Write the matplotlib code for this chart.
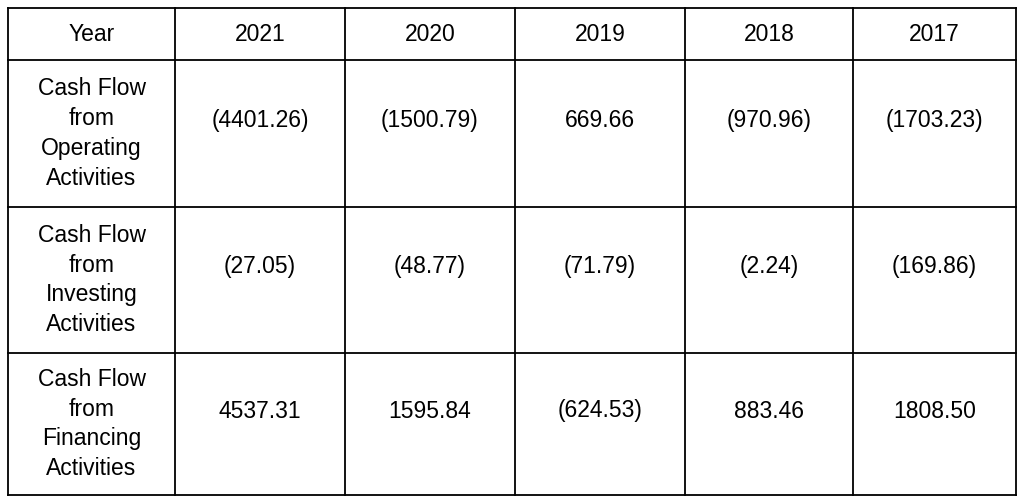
import matplotlib
matplotlib.use("Agg")
import matplotlib.pyplot as plt

header = ["Year", "2021", "2020", "2019", "2018", "2017"]
row_labels = ["Cash Flow\nfrom\nOperating\nActivities",
              "Cash Flow\nfrom\nInvesting\nActivities",
              "Cash Flow\nfrom\nFinancing\nActivities"]
operating = ["(4401.26)", "(1500.79)", "669.66", "(970.96)", "(1703.23)"]
investing = ["(27.05)", "(48.77)", "(71.79)", "(2.24)", "(169.86)"]
financing = ["4537.31", "1595.84", "(624.53)", "883.46", "1808.50"]

col_edges = [8, 175, 345, 515, 685, 853, 1016]
row_edges = [8, 60, 207, 353, 495]

fig = plt.figure(figsize=(10.24, 5.03), dpi=100)
ax = fig.add_axes([0, 0, 1, 1])
ax.set_xlim(0, 1024)
ax.set_ylim(503, 0)
ax.axis("off")

for x in col_edges:
    ax.plot([x, x], [row_edges[0], row_edges[-1]], color="black", lw=1.3)
for y in row_edges:
    ax.plot([col_edges[0], col_edges[-1]], [y, y], color="black", lw=1.3)

rows = [header] + [[lab] + vals for lab, vals in zip(row_labels, [operating, investing, financing])]
fs = 16.5
for r, row in enumerate(rows):
    yc = (row_edges[r] + row_edges[r + 1]) / 2
    for c, txt in enumerate(row):
        xc = (col_edges[c] + col_edges[c + 1]) / 2
        y = yc - 13 if (r > 0 and c > 0) else yc
        ax.text(xc, y, txt, ha="center", va="center", fontsize=fs,
                family="Liberation Sans", linespacing=1.38)

fig.savefig("out.png", dpi=100)
